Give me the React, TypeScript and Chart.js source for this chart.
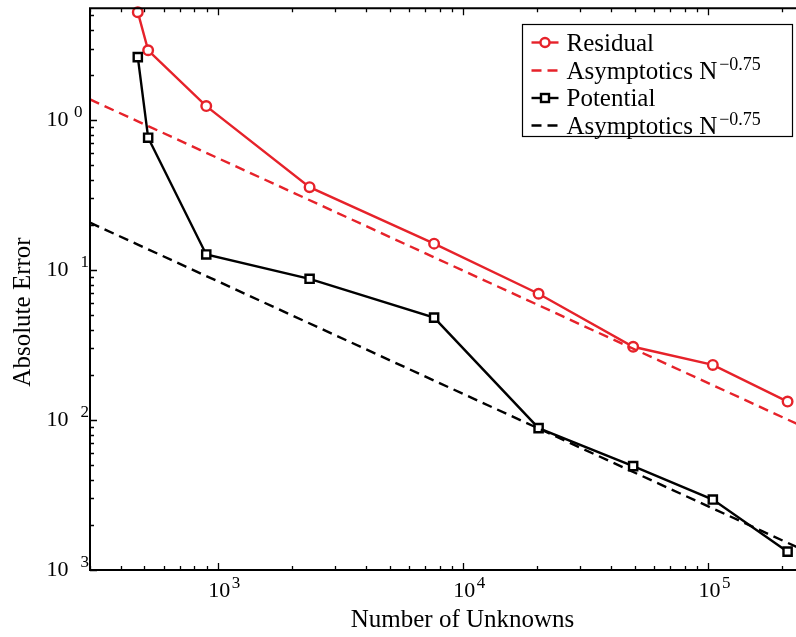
import React, { useEffect, useRef } from 'react';
import { Chart, registerables } from 'chart.js';
Chart.register(...registerables);

// ---- data ----
const unknowns = [470, 518, 894, 2360, 7600, 20280, 49300, 104200, 210300];
const residual = [5.24, 2.92, 1.239, 0.357, 0.15, 0.0695, 0.0308, 0.0233, 0.01327];
const potential = [2.63, 0.763, 0.127, 0.0874, 0.0482, 0.00883, 0.00493, 0.00295, 0.001325];
const asymptoticN = [300, 250000];
const residualAsym = [1.373, 0.00885];
const potentialAsym = [0.207, 0.001334];
const xTickValues = [1e3, 1e4, 1e5];
const xTickExps = ['3', '4', '5'];
const yTickValues = [1, 0.1, 0.01, 0.001];
const yTickExps = ['0', '1', '2', '3'];
const legendLabels = ['Residual', 'Asymptotics N', 'Potential', 'Asymptotics N'];
const legendSups = ['', '\u22120.75', '', '\u22120.75'];
const xTitle = 'Number of Unknowns';
const yTitle = 'Absolute Error';

const X_MIN = 300;
const X_MAX = 250000;
const Y_MIN = 0.001;
const Y_MAX = 5.57;

const RED = 'rgb(230,34,42)';
const BLACK = '#000000';
const SERIF = '"Liberation Serif", "DejaVu Serif", serif';
const LW = 2.4;

const pts = (xs: number[], ys: number[]) => xs.map((x, i) => ({ x, y: ys[i] }));

const axesPlugin = {
  id: 'axesPlugin',
  afterDraw(chart: any) {
    const ctx = chart.ctx as CanvasRenderingContext2D;
    const { left, right, top, bottom } = chart.chartArea;
    const xs = chart.scales.x;
    const ys = chart.scales.y;
    ctx.save();
    ctx.strokeStyle = '#000';
    ctx.fillStyle = '#000';

    // ticks
    ctx.lineWidth = 1.3;
    const majorLen = 7;
    const minorLen = 4;
    const xDecLo = Math.floor(Math.log10(X_MIN));
    const xDecHi = Math.ceil(Math.log10(X_MAX));
    for (let d = xDecLo; d <= xDecHi; d++) {
      for (let k = 1; k <= 9; k++) {
        const v = k * Math.pow(10, d);
        if (v < X_MIN || v > X_MAX) continue;
        const px = Math.round(xs.getPixelForValue(v)) + 0.5;
        const len = k === 1 ? majorLen : minorLen;
        ctx.beginPath();
        ctx.moveTo(px, bottom);
        ctx.lineTo(px, bottom - len);
        ctx.moveTo(px, top);
        ctx.lineTo(px, top + len);
        ctx.stroke();
      }
    }
    const yDecLo = Math.floor(Math.log10(Y_MIN));
    const yDecHi = Math.ceil(Math.log10(Y_MAX));
    for (let d = yDecLo; d <= yDecHi; d++) {
      for (let k = 1; k <= 9; k++) {
        const v = k * Math.pow(10, d);
        if (v < Y_MIN * 0.999 || v > Y_MAX) continue;
        const py = Math.round(ys.getPixelForValue(v)) + 0.5;
        const len = k === 1 ? majorLen : minorLen;
        ctx.beginPath();
        ctx.moveTo(left, py);
        ctx.lineTo(left + len, py);
        ctx.moveTo(right, py);
        ctx.lineTo(right - len, py);
        ctx.stroke();
      }
    }

    // frame
    ctx.lineWidth = 2;
    ctx.beginPath();
    ctx.rect(left, top, right - left, bottom - top);
    ctx.stroke();

    // x tick labels
    ctx.textBaseline = 'alphabetic';
    ctx.textAlign = 'left';
    xTickValues.forEach((v, i) => {
      const px = xs.getPixelForValue(v);
      ctx.font = `22px ${SERIF}`;
      ctx.fillText('10', px - 10, 596.5);
      const w = ctx.measureText('10').width;
      ctx.font = `17px ${SERIF}`;
      ctx.fillText(xTickExps[i], px - 10 + w + 1.5, 588);
    });

    // y tick labels
    yTickValues.forEach((v, i) => {
      const py = ys.getPixelForValue(v);
      ctx.font = `22px ${SERIF}`;
      ctx.fillText('10', 46.5, py + 6);
      ctx.font = `17px ${SERIF}`;
      const sx = v === 1 ? 74 : 80.5;
      ctx.fillText(yTickExps[i], sx, py - 3.5);
    });

    // axis titles
    ctx.font = `25px ${SERIF}`;
    ctx.textAlign = 'center';
    ctx.fillText(xTitle, 462.5, 626.5);
    ctx.save();
    ctx.translate(29.5, 312);
    ctx.rotate(-Math.PI / 2);
    ctx.fillText(yTitle, 0, 0);
    ctx.restore();

    // legend
    const lx = 522.5, ly = 24.5, lw = 270, lh = 112;
    ctx.fillStyle = '#fff';
    ctx.fillRect(lx, ly, lw, lh);
    ctx.lineWidth = 1.2;
    ctx.strokeStyle = '#000';
    ctx.strokeRect(lx, ly, lw, lh);
    const rows = [42.5, 70.5, 98, 125.5];
    const colors = [RED, RED, BLACK, BLACK];
    const dashed = [false, true, false, true];
    const markers = ['circle', '', 'rect', ''];
    legendLabels.forEach((lab, i) => {
      const cy = rows[i];
      ctx.strokeStyle = colors[i];
      ctx.lineWidth = LW;
      ctx.setLineDash(dashed[i] ? [10, 6] : []);
      ctx.beginPath();
      ctx.moveTo(531.5, cy);
      ctx.lineTo(558.5, cy);
      ctx.stroke();
      ctx.setLineDash([]);
      if (markers[i] === 'circle') {
        ctx.fillStyle = '#fff';
        ctx.beginPath();
        ctx.arc(545, cy, 4.5, 0, Math.PI * 2);
        ctx.fill();
        ctx.stroke();
      } else if (markers[i] === 'rect') {
        ctx.fillStyle = '#fff';
        ctx.fillRect(541, cy - 4, 8, 8);
        ctx.strokeRect(541, cy - 4, 8, 8);
      }
      ctx.fillStyle = '#000';
      ctx.textAlign = 'left';
      ctx.font = `25px ${SERIF}`;
      ctx.fillText(lab, 566.5, cy + 8);
      if (legendSups[i]) {
        const w = ctx.measureText(lab).width;
        ctx.font = `18px ${SERIF}`;
        ctx.fillText(legendSups[i], 566.5 + w + 2, cy - 1);
      }
    });
    ctx.restore();
  },
};

function ChartView() {
  const ref = useRef<HTMLCanvasElement | null>(null);
  useEffect(() => {
    if (!ref.current) return;
    const chart = new Chart(ref.current, {
      type: 'line',
      data: {
        datasets: [
          {
            label: 'Residual',
            data: pts(unknowns, residual),
            borderColor: RED,
            backgroundColor: '#fff',
            borderWidth: LW,
            pointStyle: 'circle',
            pointRadius: 4.8,
            pointBorderWidth: LW,
            pointBorderColor: RED,
            pointBackgroundColor: '#fff',
            tension: 0,
            clip: false,
            order: 4,
          } as any,
          {
            label: 'Asymptotics N^-0.75',
            data: pts(asymptoticN, residualAsym),
            borderColor: RED,
            borderWidth: LW,
            borderDash: [10, 6],
            pointRadius: 0,
            tension: 0,
            order: 3,
          },
          {
            label: 'Potential',
            data: pts(unknowns, potential),
            borderColor: BLACK,
            backgroundColor: '#fff',
            borderWidth: LW,
            pointStyle: 'rect',
            pointRadius: 5.8,
            pointBorderWidth: LW,
            pointBorderColor: BLACK,
            pointBackgroundColor: '#fff',
            tension: 0,
            clip: false,
            order: 2,
          } as any,
          {
            label: 'Asymptotics N^-0.75',
            data: pts(asymptoticN, potentialAsym),
            borderColor: BLACK,
            borderWidth: LW,
            borderDash: [10, 6],
            pointRadius: 0,
            tension: 0,
            order: 1,
          },
        ],
      },
      options: {
        animation: false,
        responsive: false,
        maintainAspectRatio: false,
        layout: { padding: { left: 90, top: 6, right: 34, bottom: 67 } },
        plugins: { legend: { display: false }, tooltip: { enabled: false } },
        scales: {
          x: { type: 'logarithmic', min: X_MIN, max: X_MAX, display: false },
          y: { type: 'logarithmic', min: Y_MIN, max: Y_MAX, display: false },
        },
      },
      plugins: [axesPlugin],
    });
    return () => chart.destroy();
  }, []);
  return <canvas ref={ref} width={840} height={637} style={{ display: 'block' }} />;
}

export default function App() {
  return (
    <div
      style={{
        position: 'fixed',
        left: 0,
        top: 0,
        width: 796,
        height: 637,
        overflow: 'hidden',
        background: '#fff',
      }}
    >
      <ChartView />
    </div>
  );
}
